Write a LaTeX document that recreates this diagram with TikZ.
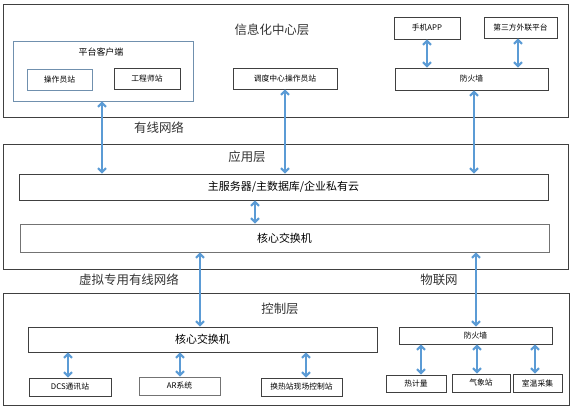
\documentclass[tikz,border=0pt]{standalone}
\usepackage{fontspec}
\setmainfont{Noto Sans CJK SC}
\usetikzlibrary{arrows.meta}
\definecolor{arrblue}{HTML}{5B9BD5}
\definecolor{edgegray}{HTML}{404040}
\definecolor{steel}{HTML}{7090AE}
\tikzset{
  layer/.style={draw=edgegray, line width=0.9bp, inner sep=0pt},
  box/.style={draw=edgegray, line width=0.9bp, inner sep=0pt, font=\fontsize{7.8}{9}\selectfont},
  bigbox/.style={draw=edgegray, line width=0.9bp, inner sep=0pt, font=\fontsize{11}{13}\selectfont},
  title/.style={font=\fontsize{12.5}{14}\selectfont, text=black!80, inner sep=0pt},
  arr/.style={draw=arrblue, line width=2bp, {Straight Barb[length=4bp,width=8bp]}-{Straight Barb[length=4bp,width=8bp]}},
}
\begin{document}
\begin{tikzpicture}[x=1bp,y=-1bp]
\useasboundingbox (0,0) rectangle (573,408);
% layers
\node[layer, minimum width=565bp, minimum height=113bp] (L1) at (285.5,60.5) {};
\node[layer, minimum width=565bp, minimum height=125bp] (L2) at (285.5,206.5) {};
\node[layer, minimum width=566bp, minimum height=112bp] (L3) at (286,349) {};
\node[title] (t1) at (272,30) {信息化中心层};
\node[title] (t2) at (247,157) {应用层};
\node[title] (t3) at (280,309) {控制层};
% top layer
\node[draw=steel, line width=0.9bp, minimum width=180bp, minimum height=60bp] (plat) at (103,71) {};
\node[font=\fontsize{9}{10}\selectfont, inner sep=0pt] (platt) at (101,52) {平台客户端};
\node[box, draw=steel, minimum width=65bp, minimum height=21bp] (op) at (59.5,79.5) {操作员站};
\node[box, minimum width=66bp, minimum height=21bp] (eng) at (147,78.5) {工程师站};
\node[box, minimum width=104bp, minimum height=21bp] (disp) at (285,78.5) {调度中心操作员站};
\node[box, minimum width=66bp, minimum height=22bp] (phone) at (427,28) {手机APP};
\node[box, minimum width=73bp, minimum height=21bp] (third) at (520.5,27.5) {第三方外联平台};
\node[box, minimum width=153bp, minimum height=22bp] (fw1) at (471.5,79) {防火墙};
% app layer
\node[bigbox, minimum width=529bp, minimum height=26bp] (srv) at (283.5,187) {主服务器/主数据库/企业私有云};
\node[bigbox, draw=black!55, minimum width=529bp, minimum height=28bp] (core1) at (284.5,238) {核心交换机};
% control layer
\node[bigbox, minimum width=349bp, minimum height=25bp] (core2) at (202.5,339.5) {核心交换机};
\node[box, minimum width=82bp, minimum height=18bp] (dcs) at (70,387) {DCS通讯站};
\node[box, draw=black!55, minimum width=81bp, minimum height=18bp] (ar) at (179.5,386) {AR系统};
\node[box, minimum width=81bp, minimum height=18bp] (hrz) at (301.5,387) {换热站现场控制站};
\node[box, minimum width=153bp, minimum height=17bp] (fw2) at (475.5,335.5) {防火墙};
\node[box, minimum width=60bp, minimum height=17bp] (heat) at (416,383.5) {热计量};
\node[box, minimum width=58bp, minimum height=18bp] (wx) at (481,383) {气象站};
\node[box, minimum width=49bp, minimum height=18bp] (room) at (537.5,383) {室温采集};
% network labels
\node[title] (n1) at (159,128) {有线网络};
\node[title] (n2) at (129,280) {虚拟专用有线网络};
\node[title] (n3) at (439,280) {物联网};
% arrows
\draw[arr] (phone.south) -- (fw1.north -| phone.south);
\draw[arr] (third.south -| 518,0) -- (fw1.north -| 518,0);
\draw[arr] (plat.south -| 102,0) -- (srv.north -| 102,0);
\draw[arr] (disp.south) -- (srv.north -| disp.south);
\draw[arr] (fw1.south -| 474,0) -- (srv.north -| 474,0);
\draw[arr] (srv.south -| 255,0) -- (core1.north -| 255,0);
\draw[arr] (core1.south -| 200,0) -- (core2.north -| 200,0);
\draw[arr] (core1.south -| 476,0) -- (fw2.north -| 476,0);
\draw[arr] (core2.south -| 68,0) -- (dcs.north -| 68,0);
\draw[arr] (core2.south -| 180,0) -- (ar.north -| 180,0);
\draw[arr] (core2.south -| 306,0) -- (hrz.north -| 306,0);
\draw[arr] (fw2.south -| 421,0) -- (heat.north -| 421,0);
\draw[arr] (fw2.south -| 477,0) -- (wx.north -| 477,0);
\draw[arr] (fw2.south -| 535,0) -- (room.north -| 535,0);
\end{tikzpicture}
\end{document}
